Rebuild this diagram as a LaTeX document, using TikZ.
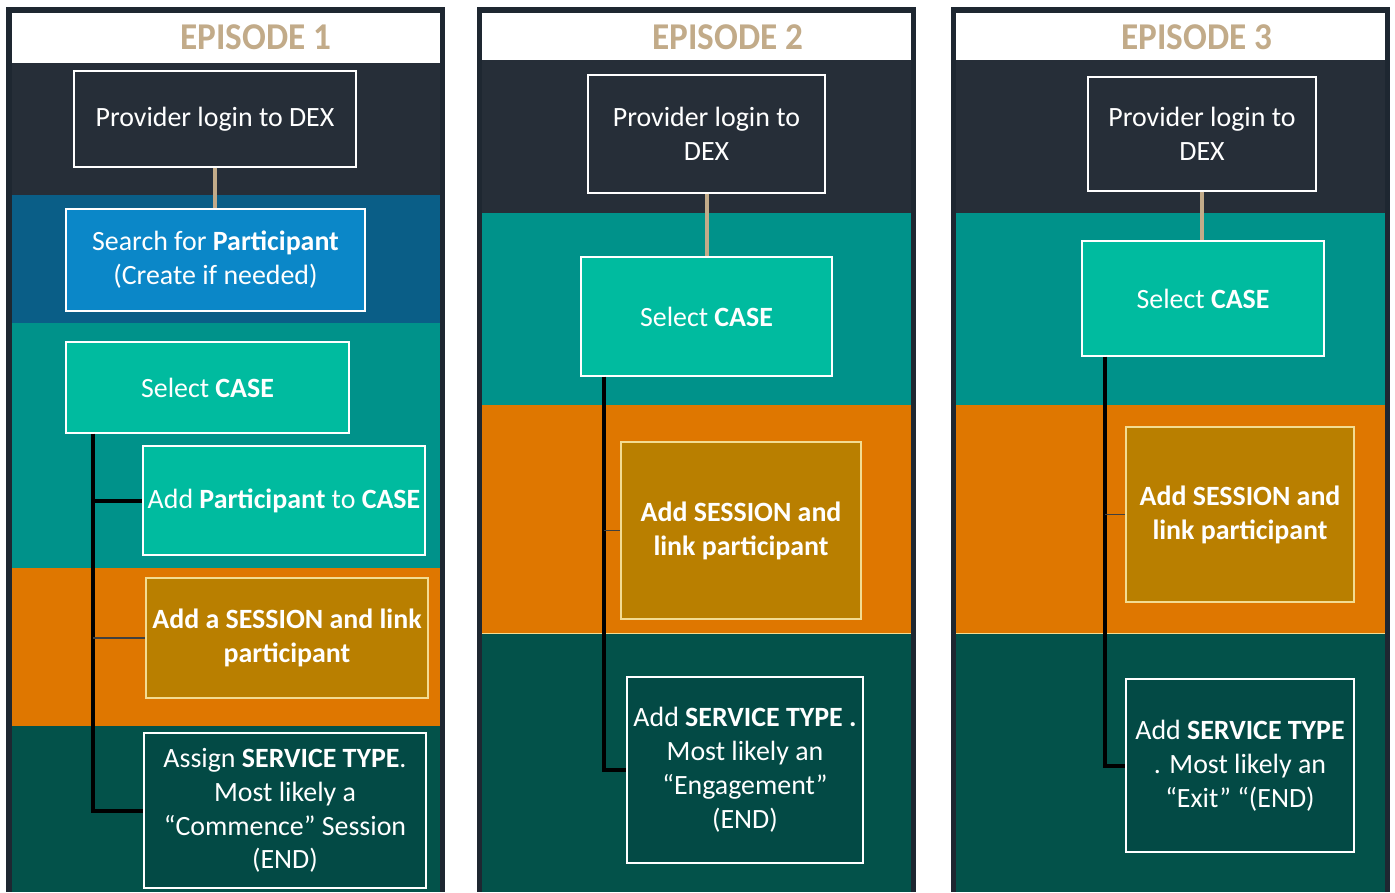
\documentclass[tikz,border=0pt]{standalone}
\usepackage{fontspec}
\setmainfont{Carlito}

\definecolor{epframe}{HTML}{1E2731}
\definecolor{epslate}{HTML}{262E38}
\definecolor{eptan}{HTML}{C2AB89}
\definecolor{epblueband}{HTML}{0A5E87}
\definecolor{epblue}{HTML}{0B87C8}
\definecolor{eptealband}{HTML}{00928A}
\definecolor{epteal}{HTML}{00BB9F}
\definecolor{eporange}{HTML}{DF7700}
\definecolor{epgold}{HTML}{B97F00}
\definecolor{epgoldline}{HTML}{F3DC92}
\definecolor{epgreenband}{HTML}{03524A}
\definecolor{epgreen}{HTML}{034A45}

\newcommand{\eptext}[1]{\scalebox{0.93}[1]{#1}}

\begin{document}
\begin{tikzpicture}[x=1bp, y=-1bp]
        \tikzstyle{card}=[draw=white, line width=1.2bp, text=white,
            align=center, inner sep=0pt, font=\fontsize{28}{34}\selectfont]
        \tikzstyle{eptitle}=[text=eptan, inner sep=0pt,
            font=\fontsize{38}{38}\selectfont\bfseries]
        \tikzstyle{trunk}=[line width=4bp, black]
        \tikzstyle{twig}=[line width=1.5bp, black!75]
        \tikzstyle{link}=[line width=4bp, eptan]

        \useasboundingbox (0, 0) rectangle (1395, 892);
        \fill[white] (0, 0) rectangle (1395, 892);

        % episode 1
        \fill[epframe] (6, 7) rectangle (445, 892);
        \fill[white] (12, 13) rectangle (440, 63);
        \fill[epslate] (12, 63) rectangle (440, 195);
        \fill[epblueband] (12, 195) rectangle (440, 323);
        \fill[eptealband] (12, 323) rectangle (440, 568);
        \fill[eporange] (12, 568) rectangle (440, 726);
        \fill[epgreenband] (12, 726) rectangle (440, 892);

        \node[eptitle] (ep1) at (256, 37) {\eptext{EPISODE 1}};
        \node[card, fill=epslate, minimum width=282bp, minimum height=96bp] (login1) at (215, 119) {Provider login to DEX};
        \node[card, fill=epblue, minimum width=299bp, minimum height=102bp] (search1) at (215.5, 260) {Search for \textbf{Participant}\\(Create if needed)};
        \node[card, fill=epteal, minimum width=283bp, minimum height=91bp] (sel1) at (207.5, 387.5) {Select \textbf{CASE}};
        \node[card, fill=epteal, minimum width=282bp, minimum height=109bp] (part1) at (284, 500.5) {Add \textbf{Participant} to \textbf{CASE}};
        \node[card, draw=epgoldline, fill=epgold, minimum width=282bp, minimum height=120bp] (sess1) at (287, 638) {\textbf{Add a SESSION and link}\\\textbf{participant}};
        \node[card, fill=epgreen, minimum width=282bp, minimum height=155bp] (serv1) at (285, 810.5) {Assign \textbf{SERVICE TYPE}.\\Most likely a\\“Commence” Session\\(END)};

        \draw[link] (login1) to (login1 |- search1.north);
        \coordinate (t1) at ([xshift=28bp]sel1.south west);
        \draw[trunk] (t1) |- (serv1.west);
        \draw[trunk] (t1 |- part1.west) -- (part1.west);
        \draw[twig] (t1 |- sess1.west) -- (sess1.west);

        % episode 2
        \fill[epframe] (477, 7) rectangle (916, 892);
        \fill[white] (482, 13) rectangle (911, 60);
        \fill[epslate] (482, 60) rectangle (911, 213);
        \fill[eptealband] (482, 213) rectangle (911, 405);
        \fill[eporange] (482, 405) rectangle (911, 633);
        \fill[epgreenband] (482, 633) rectangle (911, 892);
        \draw[epgoldline, line width=1bp] (482, 633) -- (911, 633);

        \node[eptitle] (ep2) at (728, 37) {\eptext{EPISODE 2}};
        \node[card, fill=epslate, minimum width=237bp, minimum height=118bp] (login2) at (706.5, 134) {Provider login to\\DEX};
        \node[card, fill=epteal, minimum width=251bp, minimum height=119bp] (sel2) at (706.5, 316.5) {Select \textbf{CASE}};
        \node[card, draw=epgoldline, fill=epgold, minimum width=240bp, minimum height=177bp] (sess2) at (741, 530.5) {\textbf{Add SESSION and}\\\textbf{link participant}};
        \node[card, fill=epgreen, minimum width=236bp, minimum height=186bp] (serv2) at (745, 770) {Add \textbf{SERVICE TYPE .}\\Most likely an\\“Engagement”\\(END)};

        \draw[link] (login2) to (sel2);
        \coordinate (t2) at ([xshift=24bp]sel2.south west);
        \draw[trunk] (t2) |- (serv2.west);
        \draw[twig] (t2 |- sess2.west) -- (sess2.west);

        % episode 3
        \fill[epframe] (951, 7) rectangle (1390, 892);
        \fill[white] (956, 13) rectangle (1385, 60);
        \fill[epslate] (956, 60) rectangle (1385, 213);
        \fill[eptealband] (956, 213) rectangle (1385, 405);
        \fill[eporange] (956, 405) rectangle (1385, 633);
        \fill[epgreenband] (956, 633) rectangle (1385, 892);
        \draw[epgoldline, line width=1bp] (956, 633) -- (1385, 633);

        \node[eptitle] (ep3) at (1197, 37) {\eptext{EPISODE 3}};
        \node[card, fill=epslate, minimum width=228bp, minimum height=114bp] (login3) at (1202, 134) {Provider login to\\DEX};
        \node[card, fill=epteal, minimum width=242bp, minimum height=115bp] (sel3) at (1203, 298.5) {Select \textbf{CASE}};
        \node[card, draw=epgoldline, fill=epgold, minimum width=228bp, minimum height=175bp] (sess3) at (1240, 514.5) {\textbf{Add SESSION and}\\\textbf{link participant}};
        \node[card, fill=epgreen, minimum width=228bp, minimum height=173bp] (serv3) at (1240, 765.5) {Add \textbf{SERVICE TYPE}\\. Most likely an\\“Exit” “(END)};

        \draw[link] (login3) to (login3 |- sel3.north);
        \coordinate (t3) at ([xshift=24bp]sel3.south west);
        \draw[trunk] (t3) |- (serv3.west);
        \draw[twig] (t3 |- sess3.west) -- (sess3.west);
    \end{tikzpicture}
\end{document}
